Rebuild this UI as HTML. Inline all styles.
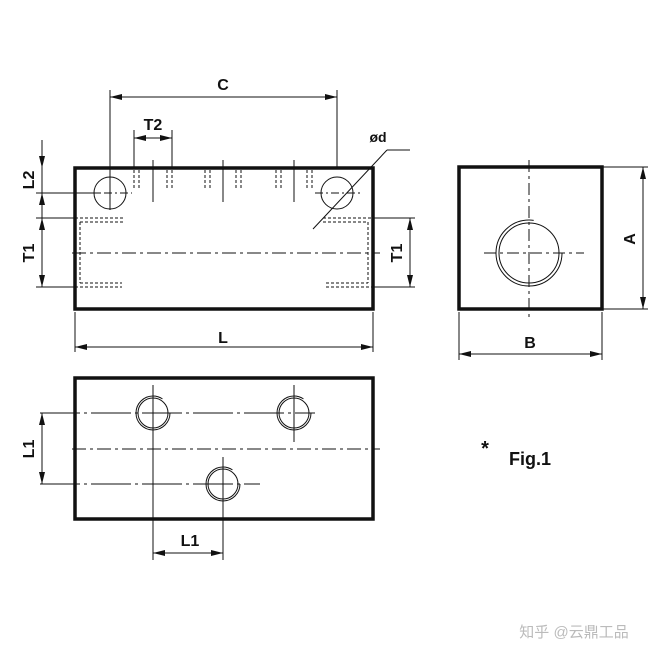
<!DOCTYPE html>
<html><head><style>body{margin:0;background:#fff}svg{display:block}</style></head><body>
<svg width="660" height="660" viewBox="0 0 660 660" xmlns="http://www.w3.org/2000/svg" font-family="Liberation Sans, sans-serif">
<defs>
<marker id="a" markerWidth="12" markerHeight="6" refX="12" refY="3" orient="auto-start-reverse" markerUnits="userSpaceOnUse"><path d="M0,0 L12,3 L0,6z" fill="#111"/></marker>
</defs>
<g stroke="#111" fill="none">
<!-- top view -->
<rect x="75" y="168" width="298" height="141" stroke-width="3.5"/>
<g stroke-width="1">
<circle cx="110" cy="193" r="16"/><circle cx="337" cy="193" r="16"/>
<path d="M88 193H132M315 193H360" stroke-dasharray="8 3 2 3"/>
<line x1="110" y1="90" x2="110" y2="210"/><line x1="337" y1="90" x2="337" y2="168"/>
<line x1="110" y1="97" x2="337" y2="97" marker-start="url(#a)" marker-end="url(#a)"/>
<line x1="134" y1="130" x2="134" y2="168"/><line x1="172" y1="130" x2="172" y2="168"/>
<line x1="134" y1="138" x2="172" y2="138" marker-start="url(#a)" marker-end="url(#a)"/>
<g stroke-dasharray="3 2">
<path d="M134 170V190M139 170V190M167 170V190M172 170V190"/>
<path d="M205 170V190M210 170V190M236 170V190M241 170V190"/>
<path d="M276 170V190M281 170V190M307 170V190M312 170V190"/>
<path d="M75 218H125M80 222H125M75 287H122M80 283H122M80 222V283"/>
<path d="M323 218H373M323 222H368M326 287H373M326 283H368M368 222V283"/>
</g>
<path d="M153 160V202M223 160V202M294 160V202"/>
<path d="M72 253H380" stroke-dasharray="14 4 3 4"/>
<line x1="387" y1="150" x2="313" y2="229"/><line x1="387" y1="150" x2="410" y2="150"/>
<path d="M36 193H100M36 218H75M36 287H75M373 218H415M373 287H415"/>
<line x1="42" y1="140" x2="42" y2="168" marker-end="url(#a)"/>
<line x1="42" y1="168" x2="42" y2="193"/>
<line x1="42" y1="218" x2="42" y2="193" marker-end="url(#a)"/>
<line x1="42" y1="218" x2="42" y2="287" marker-start="url(#a)" marker-end="url(#a)"/>
<line x1="410" y1="218" x2="410" y2="287" marker-start="url(#a)" marker-end="url(#a)"/>
<path d="M75 312V352M373 312V352"/>
<line x1="75" y1="347" x2="373" y2="347" marker-start="url(#a)" marker-end="url(#a)"/>
</g>
<!-- bottom view -->
<rect x="75" y="378" width="298" height="141" stroke-width="3.5"/>
<g stroke-width="1">
<circle cx="153" cy="413" r="15"/><circle cx="153" cy="413" r="17" stroke-dasharray="90 17"/>
<circle cx="294" cy="413" r="15"/><circle cx="294" cy="413" r="17" stroke-dasharray="90 17"/>
<circle cx="223" cy="484" r="15"/><circle cx="223" cy="484" r="17" stroke-dasharray="90 17"/>
<path d="M40 413H315M40 484H260" stroke-dasharray="40 4 3 4"/>
<path d="M72 449H380" stroke-dasharray="14 4 3 4"/>
<path d="M153 385V560M294 385V442M223 457V560"/>
<line x1="42" y1="413" x2="42" y2="484" marker-start="url(#a)" marker-end="url(#a)"/>
<line x1="153" y1="553" x2="223" y2="553" marker-start="url(#a)" marker-end="url(#a)"/>
</g>
<!-- side view -->
<rect x="459" y="167" width="143" height="142" stroke-width="3.5"/>
<g stroke-width="1">
<circle cx="529" cy="253" r="30"/><circle cx="529" cy="253" r="33" stroke-dasharray="160 47"/>
<path d="M529 160V318M484 253H584" stroke-dasharray="12 4 3 4"/>
<path d="M602 167H648M602 309H648M459 312V360M602 312V360"/>
<line x1="643" y1="167" x2="643" y2="309" marker-start="url(#a)" marker-end="url(#a)"/>
<line x1="459" y1="354" x2="602" y2="354" marker-start="url(#a)" marker-end="url(#a)"/>
</g>
</g>
<g fill="#111" font-weight="bold" font-size="16" text-anchor="middle">
<text x="223" y="90">C</text>
<text x="153" y="130">T2</text>
<text x="378" y="142" font-size="14">ød</text>
<text x="223" y="343">L</text>
<text x="530" y="348">B</text>
<text x="190" y="546">L1</text>
<text transform="translate(34,180) rotate(-90)">L2</text>
<text transform="translate(34,253) rotate(-90)">T1</text>
<text transform="translate(402,253) rotate(-90)">T1</text>
<text transform="translate(635,239) rotate(-90)">A</text>
<text transform="translate(34,449) rotate(-90)">L1</text>
<text x="485" y="455" font-size="20">*</text>
<text x="530" y="465" font-size="18">Fig.1</text>
</g>
<text x="574" y="637" fill="#bbb" font-size="15" text-anchor="middle" font-family="Liberation Sans, Noto Sans CJK SC, sans-serif">知乎 @云鼎工品</text>
</svg>
</body></html>
